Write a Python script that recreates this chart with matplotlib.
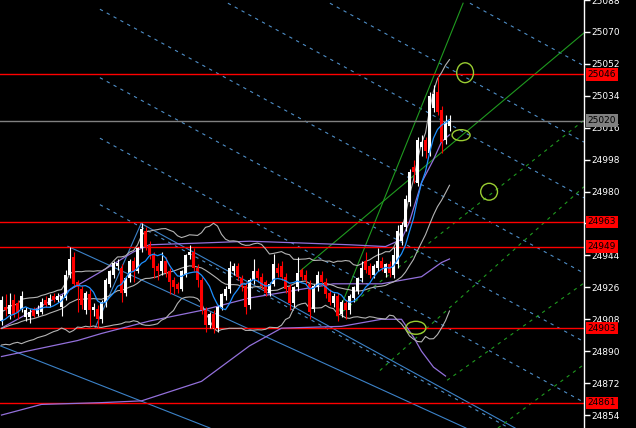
import matplotlib
matplotlib.use("Agg")
import matplotlib.pyplot as plt
import matplotlib.transforms as mtransforms
from matplotlib.patches import Ellipse
import numpy as np
import pandas as pd

# ---- candles (bar 0 = first visible bar on the left) ----
opens = [24907, 24915, 24911, 24919, 24917, 24914, 24909, 24909, 24913, 24911,
         24912, 24919, 24916, 24921, 24919, 24915, 24920, 24933, 24943, 24929,
         24925, 24913, 24922, 24913, 24914, 24908, 24917, 24928, 24933, 24938,
         24937, 24923, 24931, 24941, 24935, 24948, 24958, 24950, 24944, 24938,
         24935, 24941, 24935, 24930, 24928, 24925, 24933, 24944, 24946, 24937,
         24930, 24913, 24905, 24911, 24903, 24915, 24921, 24925, 24935, 24938,
         24931, 24927, 24916, 24930, 24935, 24932, 24929, 24923, 24928, 24937,
         24938, 24932, 24926, 24917, 24926, 24936, 24933, 24928, 24914, 24926,
         24933, 24929, 24923, 24917, 24921, 24911, 24917, 24913, 24920, 24924,
         24931, 24941, 24938, 24933, 24937, 24941, 24934, 24939, 24933, 24939,
         24952, 24960, 24974, 24994, 24985, 25005, 25009, 25002, 25027, 25036,
         25026, 25009, 25017]
highs = [24921, 24922, 24923, 24922, 24919, 24924, 24915, 24914, 24915, 24916,
         24920, 24921, 24922, 24923, 24923, 24922, 24936, 24949, 24946, 24930,
         24927, 24924, 24925, 24917, 24916, 24919, 24931, 24936, 24941, 24942,
         24939, 24932, 24942, 24943, 24949, 24962, 24960, 24952, 24946, 24940,
         24946, 24943, 24937, 24932, 24929, 24936, 24945, 24950, 24948, 24939,
         24932, 24915, 24912, 24913, 24916, 24923, 24927, 24941, 24940, 24940,
         24933, 24929, 24931, 24942, 24937, 24934, 24930, 24929, 24945, 24940,
         24941, 24934, 24928, 24927, 24943, 24937, 24936, 24930, 24928, 24935,
         24935, 24931, 24925, 24923, 24923, 24919, 24919, 24922, 24927, 24932,
         24941, 24946, 24940, 24939, 24948, 24943, 24940, 24941, 24949, 24961,
         24963, 24978, 24993, 24998, 25011, 25012, 25011, 25036, 25040, 25045,
         25028, 25023, 25023]
lows = [24905, 24910, 24908, 24909, 24908, 24912, 24907, 24906, 24909, 24910,
        24911, 24915, 24915, 24918, 24918, 24910, 24919, 24931, 24927, 24912,
        24914, 24911, 24904, 24910, 24903, 24906, 24915, 24926, 24931, 24936,
        24918, 24921, 24929, 24929, 24934, 24946, 24947, 24942, 24931, 24930,
        24933, 24932, 24922, 24922, 24923, 24924, 24932, 24942, 24935, 24926,
        24911, 24901, 24903, 24900, 24901, 24913, 24919, 24923, 24933, 24930,
        24924, 24911, 24914, 24928, 24929, 24925, 24921, 24921, 24927, 24932,
        24930, 24923, 24913, 24915, 24924, 24930, 24928, 24908, 24912, 24924,
        24927, 24920, 24916, 24915, 24907, 24909, 24908, 24911, 24918, 24922,
        24929, 24934, 24931, 24931, 24935, 24935, 24932, 24932, 24931, 24937,
        24950, 24958, 24972, 24985, 24983, 25000, 24999, 25000, 25025, 25023,
        25002, 25007, 25014]
closes = [24919, 24913, 24916, 24911, 24912, 24921, 24913, 24912, 24910, 24914,
          24918, 24916, 24920, 24919, 24921, 24921, 24933, 24942, 24928, 24926,
          24916, 24923, 24913, 24915, 24908, 24918, 24930, 24935, 24940, 24940,
          24923, 24931, 24941, 24935, 24948, 24959, 24949, 24944, 24937, 24935,
          24941, 24934, 24929, 24926, 24925, 24935, 24944, 24946, 24937, 24930,
          24913, 24905, 24911, 24903, 24915, 24922, 24925, 24937, 24938, 24932,
          24926, 24915, 24930, 24935, 24931, 24927, 24923, 24928, 24939, 24934,
          24932, 24925, 24917, 24926, 24934, 24932, 24930, 24912, 24927, 24933,
          24929, 24922, 24918, 24921, 24910, 24918, 24913, 24921, 24926, 24931,
          24937, 24936, 24933, 24938, 24941, 24937, 24939, 24934, 24944, 24958,
          24961, 24976, 24991, 24991, 25009, 25008, 25003, 25034, 25035, 25025,
          25008, 25019, 25020]

# closes of the bars left of the window, used only to start the averages
warmup_closes = [24896, 24899, 24897, 24900, 24902, 24899, 24901, 24903, 24900, 24902,
                 24904, 24901, 24903, 24905, 24903, 24906, 24904, 24907, 24905]

# slow purple envelope (bar, price)
purple_bars = [0, 12, 25, 33, 37, 50, 62, 75, 87, 96, 100, 102, 105, 108, 110, 112]
purple_upper = [24903, 24918, 24935, 24946, 24950, 24951, 24952, 24951, 24950, 24949,
                24953, 24963, 24985, 24998, 25008, 25012]
purple_mid_bars = [0, 19, 25, 37, 50, 62, 70, 83, 95, 105, 110, 112]
purple_mid = [24887, 24896, 24900, 24907, 24913, 24920, 24923, 24928, 24928, 24932,
              24940, 24942]
purple_low_bars = [0, 10, 25, 35, 50, 62, 70, 85, 95, 100, 103, 105, 108, 111]
purple_low = [24854, 24860, 24861, 24862, 24873, 24893, 24903, 24904, 24908, 24908,
              24898, 24890, 24881, 24876]

# horizontal levels
red_levels = [25046, 24963, 24949, 24903, 24861]
gray_level = 25020
tick_values = [25088, 25070, 25052, 25034, 25016, 24998, 24980, 24962, 24944,
               24926, 24908, 24890, 24872, 24854]

# trend lines: (bar0, price0, bar1, price1)
blue_solid = [(16.6, 24949.1, 116.1, 24846.7),
              (34.9, 24962.0, 128.4, 24846.7),
              (23.4, 24903.2, 34.9, 24962.0),
              (-0.4, 24893.1, 52.1, 24846.7)]
blue_dashed = [(117.1, 25086.2, 145.6, 25050.9),
               (82.1, 25086.2, 145.6, 25007.9),
               (56.6, 25086.2, 145.6, 24976.5),
               (24.6, 25082.8, 145.6, 24934.0),
               (24.6, 25044.2, 145.6, 24895.4),
               (24.6, 25010.1, 145.6, 24861.2),
               (24.6, 24972.6, 126.9, 24846.7)]
green_solid = [(83.9, 24909.9, 115.4, 25086.2),
               (74.6, 24935.1, 145.6, 25069.4)]
green_dashed = [(83.9, 24909.9, 145.6, 25020.2),
                (94.6, 24879.1, 145.6, 24982.7),
                (111.4, 24873.6, 145.6, 24928.4),
                (124.1, 24846.7, 145.6, 24882.5)]

# marker ellipses: (bar, price, width in bars, height in price)
ellipses = [(115.9, 25047.0, 4.2, 11.2),
            (114.9, 25011.8, 4.5, 6.2),
            (121.9, 24979.9, 4.2, 9.5),
            (103.6, 24903.2, 5.0, 7.3)]

n = len(closes)
bars = np.arange(n)
all_closes = pd.Series(warmup_closes + closes)
k = len(warmup_closes)
fast_ma = all_closes.rolling(7, min_periods=1).mean().values[k:]
bb_mid = all_closes.rolling(20, min_periods=1).mean()
bb_std = all_closes.rolling(20, min_periods=1).std(ddof=0)
bb_up = (bb_mid + 2 * bb_std).values[k:]
bb_dn = (bb_mid - 2 * bb_std).values[k:]
bb_mid = bb_mid.values[k:]

fig = plt.figure(figsize=(6.36, 4.28), dpi=100, facecolor="black")
ax = fig.add_axes([0, 0, 584 / 636, 1])
ax.set_facecolor("black")
ax.set_xlim(-0.375, 145.625)
ax.set_ylim(24846.7, 25086.2)

# levels
for lv in red_levels:
    ax.axhline(lv, color="#ff0000", lw=1.0, zorder=2)
ax.axhline(gray_level, color="#808080", lw=1.0, zorder=2)

# trend lines
for b0, p0, b1, p1 in blue_dashed:
    ax.plot([b0, b1], [p0, p1], color="#4f8fc8", lw=0.8, ls=(0, (3, 4)), zorder=1)
for b0, p0, b1, p1 in blue_solid:
    ax.plot([b0, b1], [p0, p1], color="#3c82c8", lw=0.8, zorder=1)
for b0, p0, b1, p1 in green_dashed:
    ax.plot([b0, b1], [p0, p1], color="#1f9a1f", lw=0.8, ls=(0, (3, 4)), zorder=1)
for b0, p0, b1, p1 in green_solid:
    ax.plot([b0, b1], [p0, p1], color="#1f9a1f", lw=0.8, zorder=1)

# indicators
ax.plot(purple_bars, purple_upper, color="#9370db", lw=0.9, zorder=3)
ax.plot(purple_mid_bars, purple_mid, color="#9370db", lw=0.9, zorder=3)
ax.plot(purple_low_bars, purple_low, color="#9370db", lw=0.9, zorder=3)
ax.plot(bars, bb_up, color="#b4b4b4", lw=0.8, zorder=3)
ax.plot(bars, bb_mid, color="#b4b4b4", lw=0.8, zorder=3)
ax.plot(bars, bb_dn, color="#b4b4b4", lw=0.8, zorder=3)

# candles
o = np.array(opens); c = np.array(closes)
up = c >= o
cols = np.where(up, "white", "#ff0000")
ax.vlines(bars, lows, highs, colors=cols, lw=0.8, zorder=4)
body_lo = np.minimum(o, c)
body_h = np.maximum(np.abs(c - o), 0.6)
ax.bar(bars, body_h, bottom=body_lo, width=0.8, color=cols, edgecolor="none", zorder=5)

ax.plot(bars, fast_ma, color="#1e90ff", lw=0.9, zorder=6)

for bx, py, w, h in ellipses:
    ax.add_patch(Ellipse((bx, py), w, h, fill=False, edgecolor="#9acd32", lw=1.0, zorder=7))

# right price scale
for s in ["top", "left", "bottom"]:
    ax.spines[s].set_visible(False)
ax.spines["right"].set_color("white")
ax.spines["right"].set_linewidth(1.0)
ax.set_xticks([])
ax.yaxis.tick_right()
ax.set_yticks(tick_values)
# 24962 sits under the 24963 level box, as in the terminal
ax.set_yticklabels(["" if t == 24962 else str(t) for t in tick_values])
ax.tick_params(axis="y", colors="white", labelcolor="white", labelsize=6.5,
               length=4, width=1, pad=1)

trans = mtransforms.blended_transform_factory(ax.transAxes, ax.transData)
for lv in red_levels:
    ax.text(1.006, lv, str(lv), transform=trans, ha="left", va="center",
            fontsize=6.5, color="black", clip_on=False, zorder=10,
            bbox=dict(facecolor="#ff0000", edgecolor="none", pad=1.2))
ax.text(1.006, gray_level, str(gray_level), transform=trans, ha="left", va="center",
        fontsize=6.5, color="black", clip_on=False, zorder=10,
        bbox=dict(facecolor="#808080", edgecolor="none", pad=1.2))

fig.savefig("out.png", dpi=100, facecolor="black")
